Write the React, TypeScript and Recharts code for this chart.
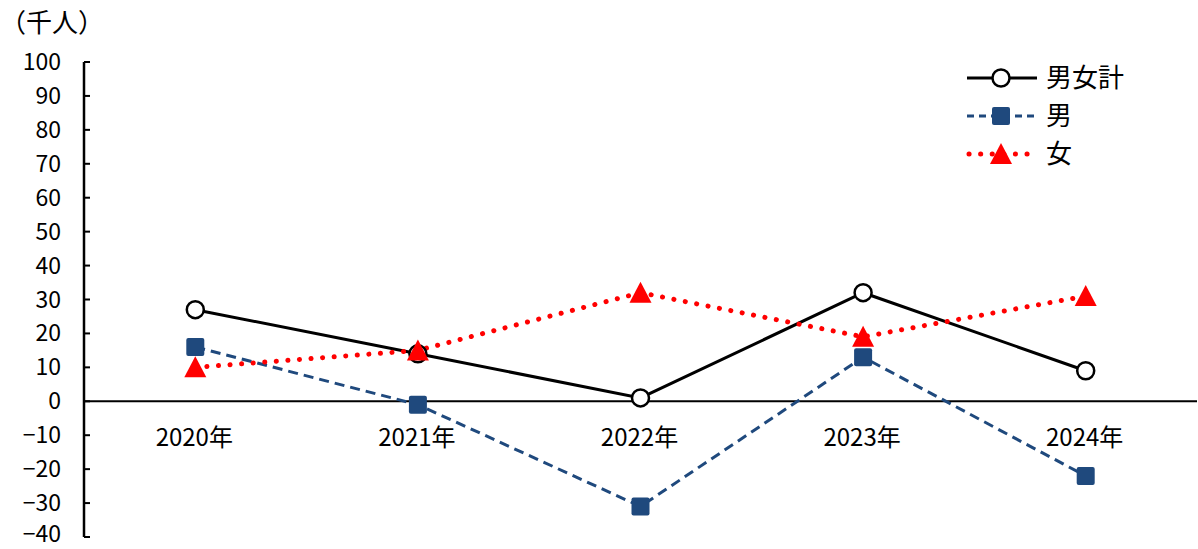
import { LineChart, Line, XAxis, YAxis, ReferenceLine } from "recharts";

const years = ["2020年", "2021年", "2022年", "2023年", "2024年"];
const total = [27, 14, 1, 32, 9];
const male = [16, -1, -31, 13, -22];
const female = [10, 15, 32, 19, 31];
const yTicks = [-40, -30, -20, -10, 0, 10, 20, 30, 40, 50, 60, 70, 80, 90, 100];

const FONT = '"Noto Sans CJK JP", "Noto Sans", sans-serif';
const BLUE = "#1F497D";
const RED = "#FF0000";

const W = 1198;
const H = 549;
const TOP = 62;
const BOTTOM = 11;
const AXIS_W = 84;
// pixel row of the zero line, used to put the year labels under it
const ZERO_Y = TOP + ((100 - 0) / 140) * (H - TOP - BOTTOM - 1);

const data = years.map((year, i) => ({
  year,
  total: total[i],
  male: male[i],
  female: female[i],
}));

const fmt = (v: number) => (v < 0 ? `−${Math.abs(v)}` : `${v}`);

function YTick(props: any) {
  const { y, payload } = props;
  // keep the lowest label inside the picture
  const base = Math.min(y + 8, H - 7);
  return (
    <g>
      <line x1={AXIS_W} x2={AXIS_W + 6} y1={y} y2={y} stroke="#000" strokeWidth={2} />
      <text x={61} y={base} textAnchor="end" fontSize={23} fontFamily={FONT} fill="#000">
        {fmt(payload.value)}
      </text>
    </g>
  );
}

function XTick(props: any) {
  const { x, payload } = props;
  return (
    <text x={x - 1} y={ZERO_Y + 36} dy="0.36em" textAnchor="middle" fontSize={24} fontFamily={FONT} fill="#000">
      {payload.value}
    </text>
  );
}

function Circle(props: any) {
  const { cx, cy } = props;
  if (cx == null || cy == null) return null;
  return <circle cx={cx} cy={cy} r={8.5} fill="#fff" stroke="#000" strokeWidth={2.5} />;
}

function Square(props: any) {
  const { cx, cy } = props;
  if (cx == null || cy == null) return null;
  return <rect x={cx - 9} y={cy - 9} width={18} height={18} rx={2} fill={BLUE} />;
}

function Triangle(props: any) {
  const { cx, cy } = props;
  if (cx == null || cy == null) return null;
  return <path d={`M${cx},${cy - 11} L${cx + 11},${cy + 10} L${cx - 11},${cy + 10} Z`} fill={RED} />;
}

function LegendBox() {
  const rows = ["男女計", "男", "女"];
  return (
    <svg width={180} height={120} style={{ position: "absolute", left: 967, top: 62, overflow: "visible" }}>
      {rows.map((name, i) => {
        const y = 16 + i * 38;
        return (
          <g key={name}>
            {i === 0 && (
              <>
                <line x1={0} x2={70} y1={y} y2={y} stroke="#000" strokeWidth={3} />
                <Circle cx={34} cy={y} />
              </>
            )}
            {i === 1 && (
              <>
                <line x1={0} x2={70} y1={y} y2={y} stroke={BLUE} strokeWidth={3} strokeDasharray="7 5" />
                <Square cx={34} cy={y} />
              </>
            )}
            {i === 2 && (
              <>
                <line x1={2} x2={70} y1={y} y2={y} stroke={RED} strokeWidth={5} strokeDasharray="0.1 11.5" strokeLinecap="round" />
                <Triangle cx={34} cy={y} />
              </>
            )}
            <text x={79} y={y} dy="0.36em" fontSize={26} fontFamily={FONT} fill="#000">
              {name}
            </text>
          </g>
        );
      })}
    </svg>
  );
}

export default function App() {
  return (
    <div style={{ position: "absolute", left: 0, top: 0, width: W, height: H, background: "#fff" }}>
      <LineChart width={W} height={H} data={data} margin={{ top: TOP, right: 1, bottom: BOTTOM, left: 0 }}>
        <XAxis
          dataKey="year"
          scale="band"
          axisLine={false}
          tickLine={false}
          height={1}
          interval={0}
          tick={<XTick />}
        />
        <YAxis
          width={AXIS_W}
          domain={[-40, 100]}
          ticks={yTicks}
          interval={0}
          axisLine={{ stroke: "#000", strokeWidth: 2.5 }}
          tickLine={false}
          tick={<YTick />}
        />
        <ReferenceLine y={0} stroke="#000" strokeWidth={2} />
        <Line
          dataKey="total"
          name="男女計"
          stroke="#000"
          strokeWidth={3}
          dot={<Circle />}
          activeDot={false}
          isAnimationActive={false}
        />
        <Line
          dataKey="male"
          name="男"
          stroke={BLUE}
          strokeWidth={3}
          strokeDasharray="10 6"
          dot={<Square />}
          activeDot={false}
          isAnimationActive={false}
        />
        <Line
          dataKey="female"
          name="女"
          stroke={RED}
          strokeWidth={5}
          strokeDasharray="0.1 11.5"
          strokeLinecap="round"
          dot={<Triangle />}
          activeDot={false}
          isAnimationActive={false}
        />
      </LineChart>
      <div style={{ position: "absolute", left: 0, top: 5, fontSize: 26, fontFamily: FONT, lineHeight: "32px" }}>
        （千人）
      </div>
      <LegendBox />
    </div>
  );
}
